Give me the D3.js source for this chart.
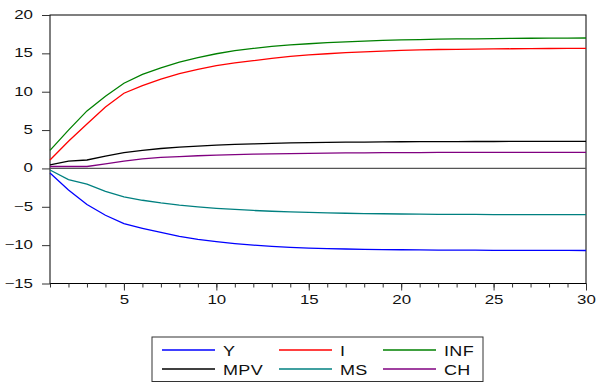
<!DOCTYPE html>
<html>
<head>
<meta charset="utf-8">
<script src="https://cdn.jsdelivr.net/npm/d3@7"></script>
<style>
  body { margin: 0; background: #fff; }
  text { font-family: "Liberation Sans", Arial, sans-serif; fill: #111; }
</style>
</head>
<body>
<div class="canva"></div>
<script>
const periods = d3.range(1, 31);
const yTicks = [-15, -10, -5, 0, 5, 10, 15, 20];
const xTicks = [5, 10, 15, 20, 25, 30];

const seriesNames = ["Y", "I", "INF", "MPV", "MS", "CH"];
const seriesColors = ["#0000ff", "#ff0000", "#008000", "#000000", "#008080", "#800080"];

const Y = [-0.6, -2.8, -4.7, -6.1, -7.2, -7.8, -8.35, -8.85, -9.25, -9.55, -9.8, -10.0, -10.15, -10.28, -10.38,
  -10.45, -10.5, -10.55, -10.58, -10.6, -10.62, -10.64, -10.65, -10.66, -10.67, -10.68, -10.68, -10.69, -10.69, -10.7];
const I = [1.1, 3.55, 5.8, 8.0, 9.8, 10.8, 11.65, 12.35, 12.9, 13.4, 13.75, 14.05, 14.35, 14.6, 14.8,
  14.95, 15.1, 15.2, 15.3, 15.4, 15.45, 15.5, 15.53, 15.56, 15.58, 15.6, 15.62, 15.63, 15.64, 15.65];
const INF = [2.35, 5.0, 7.5, 9.4, 11.1, 12.25, 13.1, 13.85, 14.45, 14.95, 15.35, 15.65, 15.9, 16.1, 16.25,
  16.4, 16.5, 16.6, 16.68, 16.75, 16.8, 16.85, 16.88, 16.9, 16.93, 16.95, 16.97, 16.98, 16.99, 17.0];
const MPV = [0.45, 0.95, 1.1, 1.6, 2.05, 2.35, 2.6, 2.78, 2.92, 3.05, 3.13, 3.2, 3.27, 3.32, 3.36,
  3.4, 3.42, 3.44, 3.46, 3.48, 3.49, 3.5, 3.5, 3.51, 3.51, 3.52, 3.52, 3.52, 3.52, 3.52];
const MS = [-0.2, -1.45, -2.05, -3.0, -3.7, -4.15, -4.5, -4.78, -5.0, -5.2, -5.35, -5.48, -5.58, -5.66, -5.73,
  -5.79, -5.84, -5.88, -5.91, -5.94, -5.96, -5.98, -5.99, -6.0, -6.01, -6.02, -6.02, -6.03, -6.03, -6.03];
const CH = [0.25, 0.25, 0.25, 0.6, 0.95, 1.25, 1.45, 1.55, 1.65, 1.73, 1.8, 1.86, 1.9, 1.94, 1.97,
  2.0, 2.02, 2.04, 2.05, 2.06, 2.07, 2.08, 2.08, 2.09, 2.09, 2.1, 2.1, 2.1, 2.1, 2.1];

const seriesValues = [Y, I, INF, MPV, MS, CH];

const width = 596, height = 384;
const plotLeft = 50, plotRight = 586, plotTop = 15, plotBottom = 283.5;
const stretch = 1.35; // glyphs in the picture are wider than tall

const svg = d3.select(".canva").append("svg").attr("width", width).attr("height", height);

const x = d3.scaleLinear().domain([1, 30]).range([plotLeft, plotRight]);
const y = d3.scaleLinear().domain([-15, 20]).range([plotBottom, plotTop]);

// frame
svg.append("rect")
  .attr("x", plotLeft).attr("y", plotTop)
  .attr("width", plotRight - plotLeft).attr("height", plotBottom - plotTop)
  .attr("fill", "none").attr("stroke", "#000").attr("stroke-width", 1);

// zero line
svg.append("line")
  .attr("x1", plotLeft).attr("x2", plotRight)
  .attr("y1", y(0)).attr("y2", y(0))
  .attr("stroke", "#555").attr("stroke-width", 1.2);

// y axis
const yAxis = svg.append("g")
  .attr("transform", `translate(${plotLeft},0)`)
  .call(d3.axisLeft(y).tickValues(yTicks).tickSize(8).tickFormat(d3.format("d")));
yAxis.select(".domain").remove();
yAxis.selectAll("line").attr("stroke", "#333");
yAxis.selectAll("text")
  .attr("x", null).attr("dy", null)
  .attr("font-size", 12.5).attr("font-family", null)
  .attr("text-anchor", "end")
  .attr("transform", `translate(-17,3.5) scale(${stretch},1)`);

// x axis, minor ticks every period
const xMinor = svg.append("g")
  .attr("transform", `translate(0,${plotBottom})`)
  .call(d3.axisBottom(x).tickValues(periods).tickSize(4).tickFormat(""));
xMinor.select(".domain").remove();
xMinor.selectAll("line").attr("stroke", "#333");

const xAxis = svg.append("g")
  .attr("transform", `translate(0,${plotBottom})`)
  .call(d3.axisBottom(x).tickValues(xTicks).tickSize(7).tickFormat(d3.format("d")));
xAxis.select(".domain").remove();
xAxis.selectAll("line").attr("stroke", "#333");
xAxis.selectAll("text")
  .attr("y", null).attr("dy", null)
  .attr("font-size", 12.5).attr("font-family", null)
  .attr("transform", `translate(0,20) scale(${stretch},1)`);

// series
const line = d3.line()
  .x((d, i) => x(periods[i]))
  .y(d => y(d));

svg.selectAll(".series")
  .data(seriesValues)
  .enter()
  .append("path")
  .attr("class", "series")
  .attr("d", d => line(d))
  .attr("fill", "none")
  .attr("stroke", (d, i) => seriesColors[i])
  .attr("stroke-width", 1.3);

// legend
svg.append("rect")
  .attr("x", 152).attr("y", 337)
  .attr("width", 331).attr("height", 44.5)
  .attr("fill", "#fff").attr("stroke", "#333").attr("stroke-width", 1);

const colX = [162, 279, 383];
const rowY = [350, 369];

const items = svg.selectAll(".legend-item")
  .data(seriesNames)
  .enter()
  .append("g")
  .attr("class", "legend-item")
  .attr("transform", (d, i) => `translate(${colX[i % 3]},${rowY[Math.floor(i / 3)]})`);

items.append("line")
  .attr("x1", 0).attr("x2", 53)
  .attr("y1", 0).attr("y2", 0)
  .attr("stroke", (d, i) => seriesColors[i])
  .attr("stroke-width", 1.3);

items.append("text")
  .text(d => d)
  .attr("font-size", 15)
  .attr("letter-spacing", 0.3)
  .attr("transform", `translate(61,5.5) scale(1.2,1)`);
</script>
</body>
</html>
